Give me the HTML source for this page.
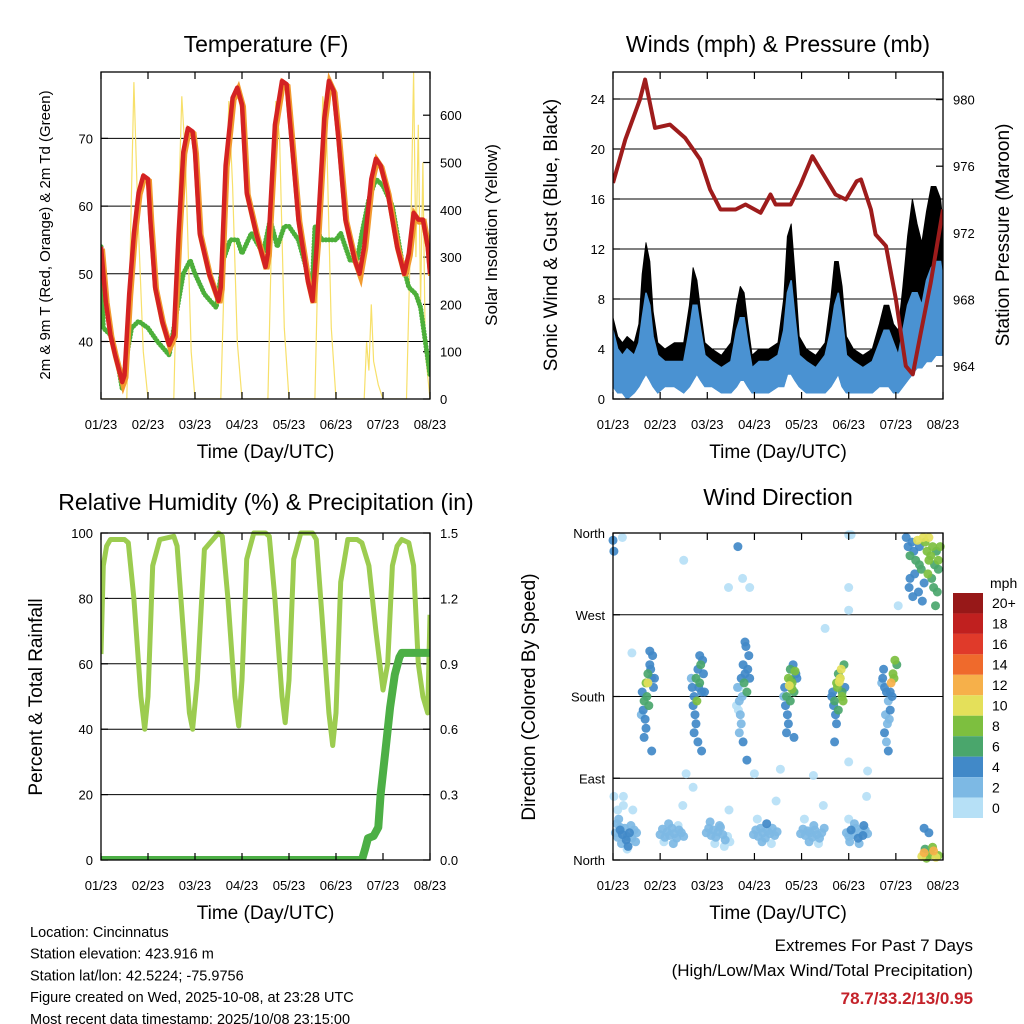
<!DOCTYPE html>
<html><head><meta charset="utf-8">
<style>
html,body{margin:0;padding:0;background:#fff;}
svg{display:block;font-family:"Liberation Sans",sans-serif;}
</style></head>
<body>
<svg id="chart" width="1024" height="1024" viewBox="0 0 1024 1024" xmlns="http://www.w3.org/2000/svg"></svg>
<script>
// ---------- DATA ----------
const dayLabels = ["01/23","02/23","03/23","04/23","05/23","06/23","07/23","08/23"];
// Temperature (F)
const tempT = [0,0.1,0.2,0.3,0.45,0.5,0.6,0.7,0.8,0.9,1.0,1.05,1.15,1.3,1.45,1.55,1.65,1.75,1.85,1.95,2.0,2.1,2.3,2.5,2.55,2.65,2.8,2.9,3.0,3.1,3.3,3.5,3.55,3.7,3.85,3.95,4.05,4.2,4.4,4.5,4.6,4.75,4.85,4.95,5.05,5.2,5.4,5.5,5.6,5.75,5.85,5.95,6.1,6.3,6.45,6.55,6.65,6.75,6.85,6.95,7.0];
const temp2m = [54,46,41,38,34,35,47,56,62,64.5,64,58,48,43,39.5,41,56,68,71.5,71,68,56,50,46,48,66,76,77.5,75,62,56,51,53,72,78.5,78,70,58,49,46,55,73,78.5,77,70,58,52,50,54,64,67,66,62,54,50,53,59,58,58,54,50];
const dewT = [0,0.05,0.2,0.35,0.45,0.55,0.65,0.8,1.0,1.2,1.45,1.6,1.75,1.9,2.0,2.2,2.45,2.6,2.75,2.9,3.0,3.2,3.45,3.6,3.75,3.9,4.0,4.2,4.4,4.5,4.55,4.7,4.9,5.0,5.1,5.3,5.45,5.55,5.7,5.85,6.0,6.2,6.4,6.55,6.7,6.8,6.9,7.0];
const dewV = [54,42,41,37,33,38,42,43,42,40,38,44,50,52,50,47,45,52,55,55,53,56,53,58,54,57,57,55,50,49,57,55,55,55,56,52,52,56,61,64,63,60,52,48,47,45,40,35];
const solT = [0,0.55,0.62,0.7,0.78,0.9,1.0,1.55,1.62,1.72,1.8,1.92,2.0,2.55,2.62,2.72,2.8,2.9,3.0,3.55,3.62,3.72,3.8,3.9,4.0,4.55,4.62,4.72,4.8,4.9,5.0,5.55,5.6,5.65,5.7,5.75,5.8,5.9,6.0,6.5,6.6,6.65,6.7,6.75,6.8,6.85,6.9,7.0];
const solV = [0,0,300,670,400,100,0,0,300,640,500,100,0,0,250,630,450,120,0,0,300,630,550,150,0,0,300,640,560,150,0,0,0,120,60,200,80,30,0,0,400,690,300,580,200,500,100,0];
const tempTicks = [40,50,60,70];
const solTicks = [0,100,200,300,400,500,600];
// Winds & pressure
const windT = [0,0.1,0.2,0.3,0.45,0.55,0.62,0.7,0.78,0.85,0.95, 1.1,1.3,1.5,1.62,1.7,1.78,1.86,1.95, 2.1,2.3,2.5,2.62,2.7,2.78,2.86,2.95, 3.1,3.3,3.5,3.62,3.7,3.78,3.86,3.95, 4.1,4.3,4.5,4.62,4.7,4.78,4.86,4.95, 5.1,5.3,5.5,5.65,5.75,5.85,5.95,6.05,6.15,6.25,6.35,6.45,6.55,6.65,6.75,6.85,6.95,7.0];
const windLo = [1,0.5,0.5,0,0.5,1,1.5,2,1.5,1,0.5, 1,1,0.5,1,1.5,2,1.5,1, 1,0.5,0.5,1,1.5,1.5,1,0.5, 0.5,0.5,1,1,2,2,1.5,1, 0.5,0.5,0.5,1,1.5,2,1,0.5, 0.5,0.5,0.5,1,1,1,0.5,0.5,1,1.5,2,2.5,2.5,3,3,3.5,3.5,3.5];
const windHi = [5.5,4,3.5,4,3.5,4.5,6.5,8.5,7.5,5,3.5, 3,3,3,5.5,7.5,7.5,5.5,3.5, 3,2.5,3,5.5,6.5,6.5,4.5,2.5, 3,3,3.5,5.5,8.5,9.5,6.5,3.5, 3,2.5,3.5,5.5,7.5,8.5,6.5,3.5, 3,2.5,3,4.5,5.5,5.5,4.5,3.5,5.5,7.5,8.5,8.5,7.5,9.5,10.5,11,11,9.5];
const gustHi = [6.5,5,4.5,5,4.5,6,10,12.5,11,7,4.5, 4,4.5,4.5,7.5,10.5,9.5,7,4.5, 4,3.5,4.5,7.5,9,8.5,6,3.5, 4,4,4.5,8,13,14,10,5, 4,3.5,4.5,8,11,11,9,5, 4,3.5,4,6,7.5,7.5,6,5.5,9,13,16,14,12.5,15,17,17,16,14];
const presT = [0,0.26,0.57,0.68,0.89,1.21,1.53,1.85,2.06,2.28,2.6,2.81,3.13,3.34,3.45,3.77,3.98,4.23,4.4,4.72,4.94,5.17,5.26,5.47,5.57,5.79,6.0,6.21,6.36,6.53,6.74,7.0];
const presV = [975,977.6,980,981.2,978.3,978.5,977.7,976.4,974.6,973.4,973.4,973.7,973.2,974.3,973.7,973.7,974.9,976.6,975.8,974.3,974,975.1,975.2,973.4,971.9,971.2,968,964,963.5,966,969,973.4];
const windTicks = [0,4,8,12,16,20,24];
const presTicks = [964,968,972,976,980];
// RH & precip
const rhT = [0,0.05,0.12,0.2,0.5,0.58,0.7,0.85,0.93,1.0,1.1,1.25,1.55,1.62,1.75,1.88,1.95,2.05,2.2,2.5,2.58,2.7,2.85,2.93,3.0,3.1,3.25,3.5,3.58,3.7,3.85,3.92,4.0,4.1,4.25,4.5,4.58,4.7,4.85,4.93,5.0,5.1,5.25,5.45,5.55,5.7,5.85,6.0,6.1,6.2,6.3,6.4,6.55,6.65,6.75,6.85,6.95,7.0];
const rhV = [63,90,96,98,98,97,80,50,40,50,90,98,99,96,70,45,40,55,95,100,99,80,50,41,55,92,100,100,99,80,50,42,55,92,100,100,98,75,45,35,45,85,98,98,97,90,70,52,60,90,96,98,97,90,60,50,45,75];
const precT = [0,5.55,5.62,5.68,5.8,5.9,5.95,6.05,6.15,6.25,6.35,6.4,7.0];
const precV = [0,0,0.05,0.1,0.11,0.15,0.3,0.5,0.7,0.85,0.93,0.95,0.95];
const rhTicks = [0,20,40,60,80,100];
const precTicks = ["0.0","0.3","0.6","0.9","1.2","1.5"];
// Wind direction
const dirLabels = ["North","East","South","West","North"];
const dirDay = [
0.05,0.1,0.15,0.2,0.25,0.3,0.35,0.4,0.45,0.5,0.08,0.18,0.28,0.38,0.48,0.12,0.32,0.02,0.22,0.42,0.3,0.15,
1.0,1.05,1.1,1.15,1.2,1.25,1.3,1.35,1.4,1.45,1.5,1.08,1.18,1.28,1.38,1.48,
1.98,2.03,2.08,2.13,2.18,2.23,2.28,2.33,2.38,2.43,2.48,2.06,2.16,2.26,2.36,2.46,
2.98,3.03,3.08,3.13,3.18,3.23,3.28,3.33,3.38,3.43,3.48,3.06,3.16,3.26,3.36,3.46,
3.98,4.03,4.08,4.13,4.18,4.23,4.28,4.33,4.38,4.43,4.48,4.06,4.16,4.26,4.36,4.46,
4.95,5.0,5.05,5.1,5.15,5.2,5.25,5.3,5.35,5.4,5.02,5.12,5.22,5.32,5.0,5.38,
0.62,0.66,0.7,0.74,0.78,0.82,0.86,0.64,0.72,0.8,0.68,0.76,0.84,0.7,0.74,0.66,0.78,0.82,0.6,0.88,
1.68,1.72,1.76,1.8,1.84,1.88,1.92,1.7,1.78,1.86,1.74,1.82,1.9,1.76,1.72,1.84,1.8,1.88,1.66,1.94,
2.64,2.68,2.72,2.76,2.8,2.84,2.88,2.66,2.74,2.82,2.7,2.78,2.86,2.72,2.76,2.68,2.8,2.84,2.62,2.9,
3.64,3.68,3.72,3.76,3.8,3.84,3.88,3.66,3.74,3.82,3.7,3.78,3.86,3.72,3.76,3.68,3.8,3.84,3.62,3.9,
4.66,4.7,4.74,4.78,4.82,4.86,4.9,4.68,4.76,4.84,4.72,4.8,4.88,4.74,4.78,4.7,4.82,4.86,4.64,4.92,
5.72,5.76,5.8,5.84,5.88,5.92,5.96,5.74,5.78,5.86,5.82,5.9,5.94,5.76,5.8,5.84,5.98,6.02,5.7,5.88,
6.22,6.26,6.3,6.34,6.38,6.42,6.46,6.5,6.54,6.58,6.62,6.66,6.7,6.74,6.78,6.82,6.86,6.9,6.94,6.3,6.4,6.5,6.6,6.7,6.8,6.9,6.28,6.48,6.68,6.88,6.36,6.56,6.76,6.84,
6.55,6.6,6.65,6.75,6.8,6.85,6.9,6.62,6.78,6.7,6.6,
0,0.02,0.2,1.5,2.65,2.75,2.9,2.45,5.0,5.05,5.0,5.0,4.5,0.4,1.55,1.7,3.0,4.25,5.0,0.22,0.1,2.67,3.55,5.4,6.05];
const dirDeg = [
30,25,33,28,35,26,30,24,33,30,40,18,22,38,20,45,15,70,60,55,12,36,
28,34,25,31,27,35,29,24,33,30,26,20,40,18,38,60,
30,35,27,33,25,31,36,28,22,26,20,42,18,38,15,55,
28,33,26,35,30,24,32,29,35,27,31,45,20,40,18,65,
29,34,27,32,30,25,33,28,24,30,35,45,20,38,18,60,
30,26,33,28,35,24,31,27,33,29,20,40,18,38,45,70,
185,175,195,205,215,200,190,165,180,210,155,170,225,145,195,135,230,120,160,200,
190,180,200,210,195,185,205,170,175,215,160,190,220,150,140,225,130,120,200,185,
190,175,200,215,205,185,225,165,180,235,160,195,210,150,130,140,240,110,170,200,
190,180,200,210,195,185,205,170,192,215,160,198,208,150,175,140,188,135,180,200,
185,175,195,205,200,180,215,170,190,210,160,196,175,150,165,130,200,185,180,190,
200,190,185,175,165,180,200,210,160,155,150,195,205,140,130,120,220,215,195,185,
355,345,335,350,340,330,352,345,320,355,350,340,355,335,345,325,340,330,345,310,315,325,305,330,300,320,300,295,315,295,290,285,310,280,
4,8,2,6,10,3,5,12,14,30,35,
352,340,355,330,345,310,300,300,358,358,300,275,255,228,95,80,95,93,108,70,55,190,100,98,280];
const dirSpd = [
2,3,4,4,2,2,5,2,3,2,2,2,4,2,2,2,5,1,1,1,1,2,
2,2,2,2,2,2,2,2,2,2,2,1,2,2,1,1,
2,2,2,2,2,2,2,2,2,1,1,2,1,2,1,1,
2,2,2,2,2,2,2,2,2,2,2,1,2,4,1,1,
2,2,2,2,2,2,2,2,2,2,2,1,2,2,1,1,
2,2,4,2,2,5,2,4,2,2,2,2,2,4,1,1,
5,6,9,7,5,4,5,4,6,5,5,7,4,5,10,4,4,4,2,4,
4,5,7,5,6,4,5,4,8,6,4,5,4,5,4,5,4,4,2,5,
2,2,4,5,4,6,5,1,2,4,2,6,5,2,4,2,4,4,1,4,
5,6,8,7,9,6,5,4,10,5,4,7,8,5,6,4,9,4,2,5,
4,6,8,7,10,8,6,5,9,10,4,11,8,5,6,4,9,6,4,5,
4,5,4,3,4,5,8,4,3,2,2,12,9,4,3,4,8,7,2,4,
4,5,6,4,5,7,10,4,6,10,8,9,10,8,9,7,6,9,8,4,5,6,4,8,6,7,5,4,9,6,4,4,6,6,
10,12,8,9,12,10,8,6,8,4,4,
4,4,1,1,4,1,1,1,1,1,1,1,1,1,1,1,1,1,1,1,1,1,1,1,1];
const speedLabels = ["0","2","4","6","8","10","12","14","16","18","20+"];
const speedColors = ["#b6e0f6","#7db9e4","#4189c8","#4aa66c","#7dbf3f","#e4e05a","#f6b04a","#ef6a2c","#e03a2a","#c0201f","#971818"];

// ---------- HELPERS ----------
const NS = "http://www.w3.org/2000/svg";
const svg = document.getElementById("chart");
function mk(tag, attrs, parent){
  const e = document.createElementNS(NS, tag);
  for (const k in attrs) e.setAttribute(k, attrs[k]);
  (parent || svg).appendChild(e);
  return e;
}
function txt(str, attrs, parent){ const t = mk("text", attrs, parent); t.textContent = str; return t; }
function pathD(xs, ys, sx, sy){
  let d = "";
  for (let i = 0; i < xs.length; i++) d += (i ? "L" : "M") + sx(xs[i]).toFixed(1) + "," + sy(ys[i]).toFixed(1);
  return d;
}
function bandD(xs, lo, hi, sx, sy){
  let d = "";
  for (let i = 0; i < xs.length; i++) d += (i ? "L" : "M") + sx(xs[i]).toFixed(1) + "," + sy(hi[i]).toFixed(1);
  for (let i = xs.length - 1; i >= 0; i--) d += "L" + sx(xs[i]).toFixed(1) + "," + sy(lo[i]).toFixed(1);
  return d + "Z";
}
function xAxis(g, P, sx){
  for (let i = 0; i < dayLabels.length; i++){
    const x = sx(i);
    const tk = mk("line", {x1:x, x2:x, y1:P.y1, y2:P.y1-7, stroke:"#000", "stroke-width":1.2}, g);
    
    
    const tk2 = mk("line", {x1:x, x2:x, y1:P.y0, y2:P.y0+7, stroke:"#000", "stroke-width":1.2}, g);
    
    
    const lb = txt(dayLabels[i], {x:x, y:P.y1+30, "font-size":13, "text-anchor":"middle"}, g);
    
    
  }
  const t = txt("Time (Day/UTC)", {x:(P.x0+P.x1)/2, y:P.y1+59, "font-size":19, "text-anchor":"middle"}, g);
  
  
}
function yTicks(g, P, vals, labels, sy, side, grid){
  for (let i = 0; i < vals.length; i++){
    const y = sy(vals[i]);
    if (grid && y > P.y0 + 1 && y < P.y1 - 1){
      const gl = mk("line", {x1:P.x0, x2:P.x1, y1:y, y2:y, stroke:"#000", "stroke-width":1}, g);
      
      
    }
    const x = side === "left" ? P.x0 : P.x1;
    const dx = side === "left" ? 7 : -7;
    const tk = mk("line", {x1:x, x2:x+dx, y1:y, y2:y, stroke:"#000", "stroke-width":1.2}, g);
    
    
    const lb = txt(labels[i], {x: side === "left" ? P.x0-8 : P.x1+10, y:y+5, "font-size":13, "text-anchor": side === "left" ? "end" : "start"}, g);
    
    
  }
}
function frame(g, P){
  const r = mk("rect", {x:P.x0, y:P.y0, width:P.x1-P.x0, height:P.y1-P.y0, fill:"none", stroke:"#000", "stroke-width":1.3}, g);
  
  
}
function rotText(str, x, y, size, g){
  const t = txt(str, {x:x, y:y, "font-size":size, "text-anchor":"middle", transform:"rotate(-90 "+x+" "+y+")"}, g);
  return t;
}

// ---------- PANEL 1: TEMPERATURE ----------
(function(){
  const P = {x0:101, x1:430, y0:72, y1:399};
  const sx = d => P.x0 + d*(P.x1-P.x0)/7;
  const sy = v => 341.5 - (v-40)*6.77;
  const ss = v => 399 - v*0.473;
  const g = mk("g", {});
  
  
  const clip = mk("clipPath", {id:"c1"}, g);
  mk("rect", {x:P.x0, y:P.y0, width:P.x1-P.x0, height:P.y1-P.y0}, clip);
  yTicks(g, P, tempTicks, tempTicks.map(String), sy, "left", true);
  yTicks(g, P, solTicks, solTicks.map(String), ss, "right", false);
  const pg = mk("g", {"clip-path":"url(#c1)"}, g);
  const sol = mk("path", {d:pathD(solT, solV, sx, ss), fill:"none", stroke:"#f7e06a", "stroke-width":1.2}, pg);
  
  
  const dew = mk("path", {d:pathD(dewT, dewV, sx, sy), fill:"none", stroke:"#4caf3a", "stroke-width":5, "stroke-dasharray":"0.1 3", "stroke-linecap":"round"}, pg);
  
  
  const t9 = mk("path", {d:pathD(tempT, temp2m, sx, sy), fill:"none", stroke:"#f29a2e", "stroke-width":6, transform:"translate(1,2)"}, pg);
  
  
  const t2 = mk("path", {d:pathD(tempT, temp2m, sx, sy), fill:"none", stroke:"#d42222", "stroke-width":4.5, "stroke-linejoin":"round"}, pg);
  
  
  frame(g, P);
  xAxis(g, P, sx);
  const ti = txt("Temperature (F)", {x:266, y:52, "font-size":23, "text-anchor":"middle"}, g);
  
  
  const yl = rotText("2m & 9m T (Red, Orange) & 2m Td (Green)", 50, 235, 15, g);
  
  
  const yr = rotText("Solar Insolation (Yellow)", 497, 235, 17, g);
  
  
})();

// ---------- PANEL 2: WINDS ----------
(function(){
  const P = {x0:613, x1:943, y0:72, y1:399};
  const sx = d => P.x0 + d*(P.x1-P.x0)/7;
  const sy = v => 399 - v*12.5;
  const sp = v => 366 - (v-964)*16.65;
  const g = mk("g", {});
  
  
  const clip = mk("clipPath", {id:"c2"}, g);
  mk("rect", {x:P.x0, y:P.y0, width:P.x1-P.x0, height:P.y1-P.y0}, clip);
  yTicks(g, P, windTicks, windTicks.map(String), sy, "left", true);
  yTicks(g, P, presTicks, presTicks.map(String), sp, "right", false);
  const pg = mk("g", {"clip-path":"url(#c2)"}, g);
  const gust = mk("path", {d:bandD(windT, windLo, gustHi, sx, sy), fill:"#000", stroke:"#000", "stroke-width":1, "stroke-linejoin":"round"}, pg);
  
  
  const wind = mk("path", {d:bandD(windT, windLo, windHi, sx, sy), fill:"#4a92d2", stroke:"#4a92d2", "stroke-width":1.5}, pg);
  
  
  const pr = mk("path", {d:pathD(presT, presV, sx, sp), fill:"none", stroke:"#9e1c1c", "stroke-width":4, "stroke-linejoin":"round"}, pg);
  
  
  frame(g, P);
  xAxis(g, P, sx);
  const ti = txt("Winds (mph) & Pressure (mb)", {x:778, y:52, "font-size":23, "text-anchor":"middle"}, g);
  
  
  const yl = rotText("Sonic Wind & Gust (Blue, Black)", 557, 235, 19, g);
  
  
  const yr = rotText("Station Pressure (Maroon)", 1009, 235, 19, g);
  
  
})();

// ---------- PANEL 3: RH & PRECIP ----------
(function(){
  const P = {x0:101, x1:430, y0:533, y1:860};
  const sx = d => P.x0 + d*(P.x1-P.x0)/7;
  const sy = v => 860 - v*3.27;
  const sp = v => 860 - v*218;
  const g = mk("g", {});
  
  
  const clip = mk("clipPath", {id:"c3"}, g);
  mk("rect", {x:P.x0, y:P.y0-3, width:P.x1-P.x0, height:P.y1-P.y0+3}, clip);
  yTicks(g, P, rhTicks, rhTicks.map(String), sy, "left", true);
  yTicks(g, P, precTicks.map(Number), precTicks, sp, "right", false);
  const pg = mk("g", {"clip-path":"url(#c3)"}, g);
  const rh = mk("path", {d:pathD(rhT, rhV, sx, sy), fill:"none", stroke:"#9ccc50", "stroke-width":5, "stroke-linejoin":"round"}, pg);
  
  
  const pr = mk("path", {d:pathD(precT, precV, sx, sp), fill:"none", stroke:"#4caf45", "stroke-width":8, "stroke-linejoin":"round"}, pg);
  
  
  frame(g, P);
  xAxis(g, P, sx);
  const ti = txt("Relative Humidity (%) & Precipitation (in)", {x:266, y:510, "font-size":23, "text-anchor":"middle"}, g);
  
  
  const yl = rotText("Percent & Total Rainfall", 42, 697, 19, g);
  
  
})();

// ---------- PANEL 4: WIND DIRECTION ----------
(function(){
  const P = {x0:613, x1:943, y0:533, y1:860};
  const sx = d => P.x0 + d*(P.x1-P.x0)/7;
  const sy = v => 860 - v*327/360;
  const g = mk("g", {});
  
  
  yTicks(g, P, [0,90,180,270,360], dirLabels, sy, "left", true);
  const idx = dirDay.map((_, i) => i).sort((a, b) => dirSpd[a] - dirSpd[b]);
  for (const i of idx){
    const ci = Math.min(10, Math.floor(dirSpd[i]/2));
    const c = mk("circle", {cx:sx(dirDay[i]).toFixed(1), cy:sy(dirDeg[i]).toFixed(1), r:4.5, fill:speedColors[ci], "fill-opacity":0.92}, g);
    
    
  }
  frame(g, P);
  xAxis(g, P, sx);
  const ti = txt("Wind Direction", {x:778, y:505, "font-size":23, "text-anchor":"middle"}, g);
  
  
  const yl = rotText("Direction (Colored By Speed)", 535, 697, 19, g);
  
  
  // colorbar
  const cb = mk("g", {}, g);
  
  
  const u = txt("mph", {x:990, y:588, "font-size":14}, cb);
  
  
  const h = 225/speedLabels.length;
  for (let k = 0; k < speedLabels.length; k++){
    const j = speedLabels.length - 1 - k;
    const y = 593 + k*h;
    const r = mk("rect", {x:953, y:y, width:30, height:h, fill:speedColors[j]}, cb);
    
    
    const l = txt(speedLabels[j], {x:992, y:y+h/2+5, "font-size":14}, cb);
    
    
  }
})();

// ---------- FOOTER ----------
(function(){
  const info = ["Location: Cincinnatus","Station elevation: 423.916 m","Station lat/lon: 42.5224; -75.9756","Figure created on Wed, 2025-10-08, at 23:28 UTC","Most recent data timestamp: 2025/10/08 23:15:00"];
  const g = mk("g", {});
  
  
  for (let i = 0; i < info.length; i++){
    const t = txt(info[i], {x:30, y:937 + i*21.7, "font-size":14.5}, g);
    
    
  }
  const e1 = txt("Extremes For Past 7 Days", {x:973, y:951, "font-size":17, "text-anchor":"end"});
  
  
  const e2 = txt("(High/Low/Max Wind/Total Precipitation)", {x:973, y:976, "font-size":17, "text-anchor":"end"});
  
  
  const e3 = txt("78.7/33.2/13/0.95", {x:973, y:1004, "font-size":17, "font-weight":"bold", fill:"#c4222a", "text-anchor":"end"});
  
  
})();
</script>
</body></html>
